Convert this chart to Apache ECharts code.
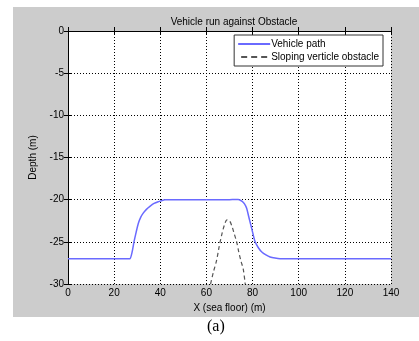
<!DOCTYPE html>
<html>
<head>
<meta charset="utf-8">
<script src="https://cdn.jsdelivr.net/npm/echarts@6/dist/echarts.min.js"></script>
<style>
  html, body { margin: 0; padding: 0; background: #fff; }
  #chart { width: 419px; height: 341px; }
</style>
</head>
<body>
<div id="chart"></div>
<script>
// vehicle path (x, depth)
const pathX = [0, 10, 20, 26, 26.9, 27.8, 28.6, 29.5, 30.5, 31.5, 32.6, 34, 35.5, 37.3, 39.1, 42, 50, 60, 70, 72.5, 73.8, 75.5, 76.5, 77.4, 78.5, 79.6, 80.4, 81.1, 82.5, 84, 85.8, 87.6, 89.7, 91.9, 100, 120, 140];
const pathY = [-27, -27, -27, -27, -27, -26.2, -25, -23.9, -22.8, -22.1, -21.6, -21.15, -20.8, -20.45, -20.25, -20, -20, -20, -20, -19.97, -19.97, -20.2, -20.5, -21, -22.2, -23.4, -24.3, -25, -25.7, -26.2, -26.55, -26.8, -26.93, -27, -27, -27, -27];
// obstacle (x, depth)
const obsX = [61.8, 63, 64.4, 65.5, 66.6, 67.8, 68.9, 70, 71, 72, 73.1, 74.1, 75, 76, 76.8];
const obsY = [-30, -28.6, -27.2, -25.6, -24.2, -23.0, -22.4, -22.5, -23.1, -24.0, -25, -26.3, -27.3, -28.3, -30];

const xTicks = [0, 20, 40, 60, 80, 100, 120, 140];
const yTicks = [0, -5, -10, -15, -20, -25, -30];

const pair = (xs, ys) => xs.map((x, i) => [x, ys[i]]);

const font = "Liberation Sans, Arial, sans-serif";
const chart = echarts.init(document.getElementById("chart"));

const axisLine = { show: true, lineStyle: { color: "#000", width: 1 } };
const tick = { show: true, inside: true, length: 4, lineStyle: { color: "#000" } };

chart.setOption({
  animation: false,
  backgroundColor: "#fff",
  graphic: [
    {
      type: "rect",
      z: -10,
      shape: { x: 13, y: 7, width: 406, height: 310 },
      style: { fill: "#cccccc" },
    },
    {
      type: "rect",
      z: -9,
      shape: { x: 68, y: 31, width: 323, height: 253 },
      style: { fill: "#fff" },
    },
    {
      type: "text",
      left: 207,
      top: 319,
      style: { text: "(a)", font: "16px 'Liberation Serif', 'Times New Roman', serif", fill: "#000" },
    },
  ],
  title: {
    text: "Vehicle run against Obstacle",
    left: 229,
    textAlign: "center",
    top: 12,
    textStyle: { fontFamily: font, fontSize: 10, fontWeight: "normal", color: "#000" },
  },
  legend: {
    right: 36,
    top: 35,
    orient: "vertical",
    itemWidth: 32,
    itemHeight: 2,
    itemGap: 3,
    padding: [4, 4, 4, 4],
    backgroundColor: "#fff",
    borderColor: "#333",
    borderWidth: 1,
    textStyle: { fontFamily: font, fontSize: 10, color: "#000", padding: [0, 0, 0, -4] },
    data: [
      { name: "Vehicle path", icon: "rect" },
      { name: "Sloping verticle obstacle", icon: "path://M0,0h3v1h-3z M5,0h3v1h-3z M10,0h3v1h-3z" },
    ],
  },
  grid: { left: 68, top: 31, width: 323, height: 253, containLabel: false },
  xAxis: [
    {
      type: "value",
      min: 0,
      max: 140,
      interval: 20,
      position: "bottom",
      name: "X (sea floor) (m)",
      nameLocation: "middle",
      nameGap: 16,
      nameTextStyle: { fontFamily: font, fontSize: 10, color: "#000" },
      axisLine,
      axisTick: tick,
      axisLabel: { fontFamily: font, fontSize: 10, color: "#000", margin: 4 },
      splitLine: { show: true, lineStyle: { color: "#000", type: [1, 2], width: 1 } },
    },
    {
      type: "value",
      min: 0,
      max: 140,
      interval: 20,
      position: "top",
      axisLine,
      axisTick: tick,
      axisLabel: { show: false },
      splitLine: { show: false },
    },
  ],
  yAxis: [
    {
      type: "value",
      min: -30,
      max: 0,
      interval: 5,
      position: "left",
      name: "Depth (m)",
      nameLocation: "middle",
      nameGap: 22,
      nameTextStyle: { fontFamily: font, fontSize: 10, color: "#000" },
      axisLine,
      axisTick: tick,
      axisLabel: { fontFamily: font, fontSize: 10, color: "#000", margin: 4 },
      splitLine: { show: true, lineStyle: { color: "#000", type: [1, 2], width: 1 } },
    },
    {
      type: "value",
      min: -30,
      max: 0,
      interval: 5,
      position: "right",
      axisLine,
      axisTick: tick,
      axisLabel: { show: false },
      splitLine: { show: false },
    },
  ],
  series: [
    {
      name: "Vehicle path",
      type: "line",
      data: pair(pathX, pathY),
      smooth: 0.2,
      showSymbol: false,
      color: "#6a6aff",
      lineStyle: { color: "#6a6aff", width: 1.5 },
      clip: true,
    },
    {
      name: "Sloping verticle obstacle",
      type: "line",
      data: pair(obsX, obsY),
      smooth: 0.3,
      showSymbol: false,
      color: "#555",
      lineStyle: { color: "#555", width: 1.2, type: [4, 3] },
      clip: true,
    },
  ],
});
</script>
</body>
</html>
